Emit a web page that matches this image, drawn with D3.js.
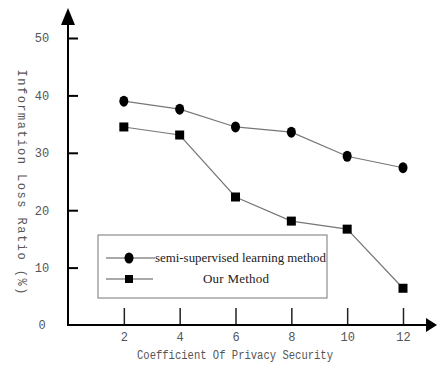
<!DOCTYPE html>
<html><head><meta charset="utf-8">
<script src="https://cdn.jsdelivr.net/npm/d3@7"></script>
<style>body{margin:0;background:#fff}</style>
</head><body>
<svg id="c" width="437" height="368"></svg>
<script>
const xValues = [2, 4, 6, 8, 10, 12];
const semiSupervised = [39.0, 37.6, 34.5, 33.6, 29.4, 27.4];
const ourMethod = [34.5, 33.1, 22.3, 18.1, 16.7, 6.4];
const yTicks = [0, 10, 20, 30, 40, 50];
const xTicks = [2, 4, 6, 8, 10, 12];
const seriesNames = ["semi-supervised learning method", "Our Method"];
const xTitle = "Coefficient Of Privacy Security";
const yTitle = "Information Loss Ratio (%)";

const svg = d3.select("#c");
const x = d3.scaleLinear().domain([0, 12]).range([68, 403]);
const y = d3.scaleLinear().domain([0, 50]).range([325, 38]);
const mono = "'Liberation Mono', 'DejaVu Sans Mono', monospace";
const serif = "'Liberation Serif', 'DejaVu Serif', serif";

// y axis ticks
const ya = svg.append("g").attr("transform", "translate(68,0)")
  .call(d3.axisLeft(y).tickValues(yTicks).tickSize(-10).tickPadding(26).tickFormat(d3.format("d")));
ya.select(".domain").remove();
ya.selectAll(".tick line").attr("stroke", "#000").attr("stroke-width", 2);
ya.selectAll(".tick text").attr("text-anchor", "middle").attr("fill", "#555")
  .style("font-family", mono).style("font-size", "12px");
ya.selectAll(".tick").filter(d => d === 0).select("line").remove();

// x axis ticks
const xa = svg.append("g").attr("transform", "translate(0,325)")
  .call(d3.axisBottom(x).tickValues(xTicks).tickSize(-17).tickPadding(7).tickFormat(d3.format("d")));
xa.select(".domain").remove();
xa.selectAll(".tick line").attr("stroke", "#222").attr("stroke-width", 1.5);
xa.selectAll(".tick text").attr("fill", "#555").style("font-family", mono).style("font-size", "12px");

// axis lines with arrows
svg.append("line").attr("x1", 68).attr("y1", 325).attr("x2", 68).attr("y2", 22)
  .attr("stroke", "#000").attr("stroke-width", 2);
svg.append("path").attr("d", "M68,8 L61,25 L75,25 Z").attr("fill", "#000");
svg.append("line").attr("x1", 67).attr("y1", 325).attr("x2", 428).attr("y2", 325)
  .attr("stroke", "#000").attr("stroke-width", 2);
svg.append("path").attr("d", "M437,325 L426,318 L426,332 Z").attr("fill", "#000");

// lines
const line = d3.line().x((d, i) => x(xValues[i])).y(d => y(d));
[semiSupervised, ourMethod].forEach(s => {
  svg.append("path").attr("d", line(s)).attr("fill", "none").attr("stroke", "#777").attr("stroke-width", 1.2);
});
svg.selectAll("ellipse.m1").data(semiSupervised).enter().append("ellipse")
  .attr("cx", (d, i) => x(xValues[i])).attr("cy", d => y(d)).attr("rx", 4.5).attr("ry", 5.5).attr("fill", "#000");
svg.selectAll("rect.m2").data(ourMethod).enter().append("rect")
  .attr("x", (d, i) => x(xValues[i]) - 4.5).attr("y", d => y(d) - 4.5).attr("width", 9).attr("height", 9).attr("fill", "#000");

// legend
svg.append("rect").attr("x", 98).attr("y", 235).attr("width", 229).attr("height", 63)
  .attr("fill", "#fff").attr("stroke", "#777").attr("stroke-width", 1);
svg.append("line").attr("x1", 106).attr("x2", 155).attr("y1", 258).attr("y2", 258).attr("stroke", "#555").attr("stroke-width", 1.2);
svg.append("ellipse").attr("cx", 129).attr("cy", 258).attr("rx", 4.5).attr("ry", 5.5).attr("fill", "#000");
svg.append("line").attr("x1", 106).attr("x2", 153).attr("y1", 279).attr("y2", 279).attr("stroke", "#555").attr("stroke-width", 1.2);
svg.append("rect").attr("x", 125).attr("y", 275).attr("width", 8).attr("height", 8).attr("fill", "#000");
svg.append("text").attr("x", 155).attr("y", 262).text(seriesNames[0])
  .attr("textLength", 171).attr("lengthAdjust", "spacingAndGlyphs")
  .style("font-family", serif).style("font-size", "13px").attr("fill", "#222");
svg.append("text").attr("x", 203).attr("y", 283).text(seriesNames[1])
  .attr("textLength", 66).attr("lengthAdjust", "spacing")
  .style("font-family", serif).style("font-size", "13px").attr("fill", "#222");

// titles
svg.append("text").attr("x", 235).attr("y", 359).attr("text-anchor", "middle").text(xTitle)
  .attr("textLength", 196).attr("lengthAdjust", "spacingAndGlyphs")
  .style("font-family", mono).style("font-size", "12px").attr("fill", "#555");
svg.append("text").attr("transform", "translate(18,182) rotate(90)").attr("text-anchor", "middle").text(yTitle)
  .attr("textLength", 225).attr("lengthAdjust", "spacing")
  .style("font-family", mono).style("font-size", "12px").attr("fill", "#555");
</script>
</body></html>
